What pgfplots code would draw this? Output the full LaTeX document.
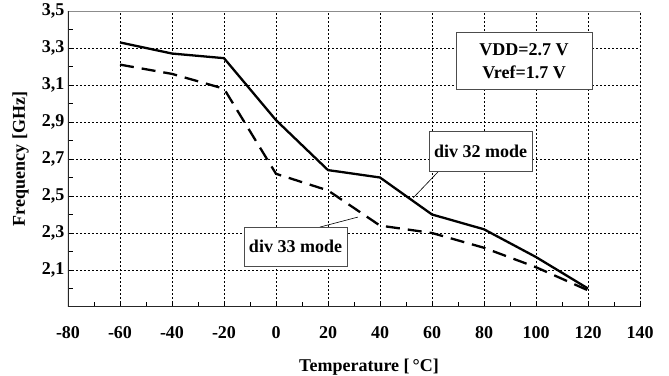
\documentclass[border=0pt]{standalone}
\usepackage{pgfplots}
\pgfplotsset{compat=1.18}
\usepackage{fontspec}
\setmainfont{Liberation Serif}
\begin{document}
\begin{tikzpicture}
\begin{axis}[
  scale only axis, width=572pt, height=296pt,
  xmin=-80, xmax=140, ymin=1.9, ymax=3.5,
  xtick={-80,-60,-40,-20,0,20,40,60,80,100,120,140},
  minor x tick num=1,
  ytick={2.1,2.3,2.5,2.7,2.9,3.1,3.3,3.5},
  minor ytick={2.0,2.2,2.4,2.6,2.8,3.0,3.2,3.4},
  tick pos=left, tick align=inside,
  grid=major,
  major grid style={black, line width=0.6pt, dash pattern=on 2pt off 2pt},
  axis line style={draw=none},
  tick style={black, line width=0.7pt},
  major tick length=5pt, minor tick length=5pt,
  /pgf/number format/assume math mode=true,
  tick label style={font=\fontsize{18}{21}\selectfont\bfseries},
  yticklabel style={/pgf/number format/.cd, fixed, fixed zerofill, precision=1, use comma},
  xticklabel style={yshift=-16pt},
  label style={font=\fontsize{18}{21}\selectfont\bfseries},
  xlabel={Temperature [\,°C]},
  ylabel={Frequency [GHz]},
  xlabel style={at={(axis description cs:0.5,0)}, anchor=center, yshift=-60pt, xshift=15pt},
  ylabel style={at={(axis description cs:-0.083,0.5)}, anchor=center},
]
\addplot[black, line width=2.3pt] coordinates {(-60,3.33)(-40,3.27)(-20,3.245)(0,2.91)(20,2.64)(40,2.60)(60,2.40)(80,2.32)(100,2.17)(120,2.00)};
\addplot[black, line width=2.3pt, dash pattern=on 14pt off 8pt] coordinates {(-60,3.21)(-40,3.16)(-20,3.08)(0,2.62)(20,2.53)(40,2.34)(60,2.30)(80,2.22)(100,2.115)(120,1.99)};
% axis frame
\draw[black!45, line width=0.8pt] (rel axis cs:0,1) -- (rel axis cs:1,1);
\draw[black!70, line width=0.8pt, dash pattern=on 2pt off 1pt] (rel axis cs:1,0) -- (rel axis cs:1,1);
\draw[black!85, line width=1.1pt] (rel axis cs:0,1) -- (rel axis cs:0,0) -- (rel axis cs:1,0);
% annotations
\draw[black, line width=0.6pt] (axis cs:62.3,2.630) -- (axis cs:52.7,2.489);
\draw[black, line width=0.6pt] (axis cs:16.9,2.332) -- (axis cs:31.5,2.386);
\node[draw=black!70, fill=white, line width=0.8pt, minimum width=136pt, minimum height=57pt, align=center, inner sep=0pt, font=\fontsize{18}{23}\selectfont\bfseries] at (axis cs:95.4,3.231) {VDD=2.7 V\\Vref=1.7 V};
\node[draw=black!70, fill=white, line width=0.8pt, minimum width=103pt, minimum height=40pt, inner sep=0pt, font=\fontsize{18}{21}\selectfont\bfseries] at (axis cs:78.7,2.739) {div 32 mode};
\node[draw=black!70, fill=white, line width=0.8pt, minimum width=103pt, minimum height=39pt, inner sep=0pt, font=\fontsize{18}{21}\selectfont\bfseries] at (axis cs:7.5,2.226) {div 33 mode};
\coordinate (SW) at (rel axis cs:0,0);
\coordinate (NE) at (rel axis cs:1,1);
\end{axis}
\pgfresetboundingbox
\path[use as bounding box] ([shift={(-68pt,-69pt)}]SW) rectangle ([shift={(29pt,11pt)}]NE);
\end{tikzpicture}
\end{document}
